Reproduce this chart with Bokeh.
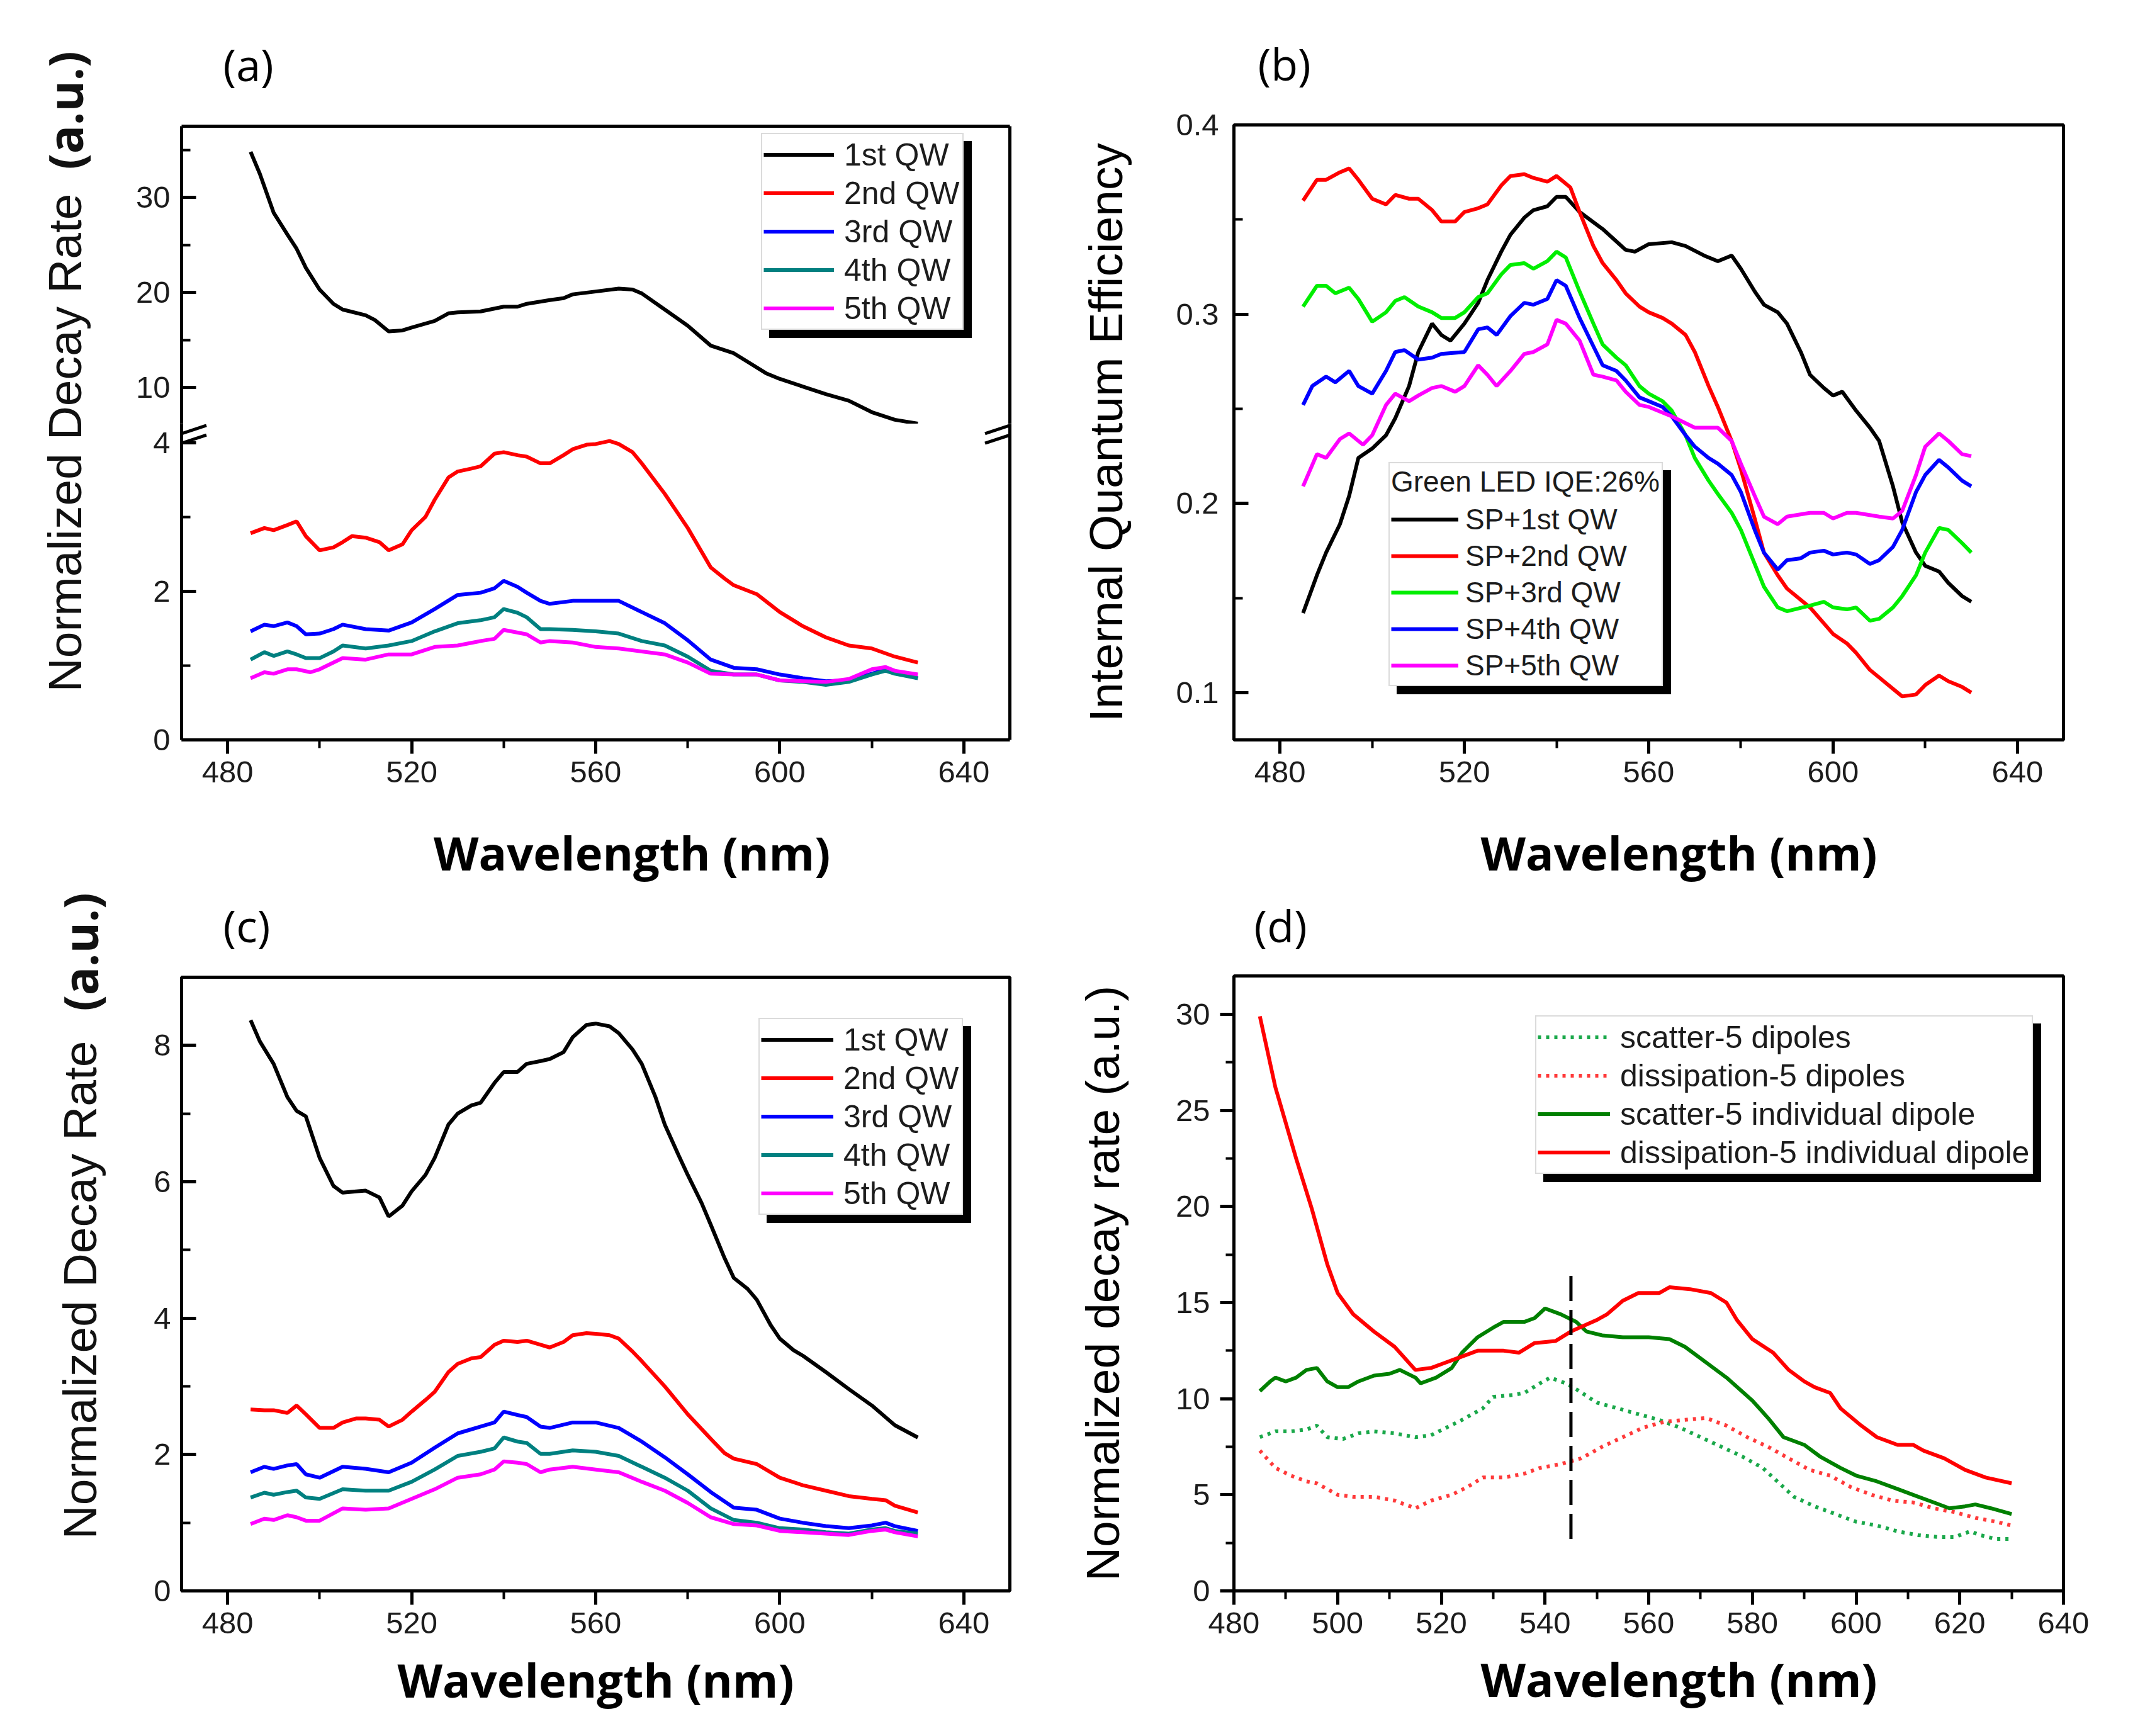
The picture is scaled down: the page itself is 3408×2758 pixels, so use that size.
from math import pi
from bokeh.plotting import figure
from bokeh.models import (Range1d, LinearAxis, FixedTicker, SingleIntervalTicker,
                          Legend, LegendItem, Label, Title)
from bokeh.layouts import row, column
from bokeh.embed import file_html
from bokeh.resources import INLINE

# ------------------------------------------------------------------ data
QW_LABELS = ["1st QW", "2nd QW", "3rd QW", "4th QW", "5th QW"]
QW_COLORS = ["#000000", "#ff0000", "#0000ff", "#008080", "#ff00ff"]
B_LABELS = ["SP+1st QW", "SP+2nd QW", "SP+3rd QW", "SP+4th QW", "SP+5th QW"]
B_COLORS = ["#000000", "#ff0000", "#00ee00", "#0000ff", "#ff00ff"]
B_TITLE = "Green LED IQE:26%"
D_LABELS = ["scatter-5 dipoles", "dissipation-5 dipoles",
            "scatter-5 individual dipole", "dissipation-5 individual dipole"]
D_COLORS = ["#1aa84a", "#ff3a3a", "#008000", "#ff0000"]
PANEL_TAGS = ["(a)", "(b)", "(c)", "(d)"]
X_LABEL = "Wavelength (nm)"

X_TICKS = [480, 520, 560, 600, 640]
X_MINOR = [500, 540, 580, 620]
A_UP_TICKS = [10, 20, 30]
A_UP_MINOR = [15, 25, 35]
A_LO_TICKS = [0, 2, 4]
A_LO_MINOR = [1, 3]

# panel (a): normalized decay rate, broken axis
A_WL1 = [485, 487, 490, 493, 495, 497, 500, 503, 505, 510, 512, 515, 518, 520, 525, 528, 530, 535, 540, 543,
         545, 550, 553, 555, 560, 565, 568, 570, 575, 580, 585, 590, 593, 597, 600, 605, 610, 615, 620, 625, 630]
A_1 = [34.8, 32.5, 28.4, 26.1, 24.6, 22.6, 20.3, 18.8, 18.2, 17.6, 17.1, 15.9, 16.0, 16.3, 17.0, 17.8, 17.9, 18.0, 18.5, 18.5,
       18.8, 19.2, 19.4, 19.8, 20.1, 20.4, 20.3, 19.9, 18.2, 16.5, 14.4, 13.6, 12.7, 11.5, 10.9, 10.1, 9.3, 8.6, 7.4, 6.6, 6.2]
A_WL2 = [485, 488, 490, 493, 495, 497, 500, 503, 505, 507, 510, 513, 515, 518, 520, 523, 525, 528, 530, 533,
         535, 538, 540, 543, 545, 548, 550, 553, 555, 558, 560, 563, 565, 568, 570, 575, 580, 585, 588, 590,
         595, 600, 605, 610, 615, 620, 625, 630]
A_2 = [2.78, 2.85, 2.82, 2.89, 2.94, 2.74, 2.55, 2.59, 2.66, 2.74, 2.72, 2.66, 2.55, 2.63, 2.82, 3.0, 3.23, 3.53, 3.61, 3.65,
       3.68, 3.85, 3.87, 3.83, 3.81, 3.72, 3.72, 3.83, 3.91, 3.97, 3.98, 4.02, 3.98, 3.87, 3.72, 3.31, 2.85, 2.32, 2.17, 2.08,
       1.96, 1.72, 1.53, 1.38, 1.27, 1.23, 1.12, 1.04]
A_WL34 = [485, 488, 490, 493, 495, 497, 500, 503, 505, 510, 515, 520, 525, 530, 535, 538, 540, 543, 545, 548,
          550, 555, 560, 565, 570, 575, 580, 585, 590, 595, 600, 605, 610, 615, 620, 623, 625, 630]
A_3 = [1.46, 1.55, 1.53, 1.58, 1.53, 1.42, 1.43, 1.49, 1.55, 1.49, 1.47, 1.58, 1.76, 1.95, 1.98, 2.04, 2.14, 2.06, 1.98, 1.87,
       1.83, 1.87, 1.87, 1.87, 1.72, 1.57, 1.34, 1.08, 0.97, 0.95, 0.88, 0.83, 0.79, 0.80, 0.89, 0.95, 0.91, 0.83]
A_4 = [1.08, 1.18, 1.13, 1.19, 1.15, 1.10, 1.10, 1.19, 1.27, 1.23, 1.27, 1.33, 1.46, 1.57, 1.61, 1.65, 1.76, 1.71, 1.65, 1.49,
       1.49, 1.48, 1.46, 1.43, 1.33, 1.27, 1.12, 0.93, 0.88, 0.88, 0.80, 0.78, 0.74, 0.78, 0.88, 0.93, 0.89, 0.83]
A_WL5 = [485, 488, 490, 493, 495, 498, 500, 505, 510, 515, 520, 525, 530, 535, 538, 540, 545, 548, 550, 555,
         560, 565, 570, 575, 580, 585, 590, 595, 600, 605, 610, 615, 620, 623, 625, 630]
A_5 = [0.83, 0.91, 0.89, 0.95, 0.95, 0.91, 0.95, 1.10, 1.08, 1.15, 1.15, 1.25, 1.27, 1.33, 1.36, 1.48, 1.42, 1.31, 1.33, 1.31,
       1.25, 1.23, 1.19, 1.15, 1.04, 0.89, 0.88, 0.88, 0.80, 0.79, 0.78, 0.82, 0.95, 0.98, 0.93, 0.88]

# panel (b): internal quantum efficiency
B_WL1 = [485, 488, 490, 493, 495, 497, 500, 503, 505, 508, 510, 513, 515, 517, 520, 523, 525, 528, 530, 533,
         535, 538, 540, 542, 545, 550, 555, 557, 560, 565, 568, 572, 575, 578, 580, 583, 585, 588, 590, 593,
         595, 598, 600, 602, 605, 608, 610, 613, 615, 618, 620, 623, 625, 628, 630]
B_1 = [0.142, 0.162, 0.174, 0.189, 0.204, 0.224, 0.229, 0.236, 0.245, 0.262, 0.280, 0.295, 0.289, 0.286, 0.295, 0.306, 0.318, 0.333, 0.342, 0.351,
       0.355, 0.357, 0.362, 0.362, 0.354, 0.345, 0.334, 0.333, 0.337, 0.338, 0.336, 0.331, 0.328, 0.331, 0.324, 0.312, 0.305, 0.301, 0.295, 0.280,
       0.268, 0.261, 0.257, 0.259, 0.249, 0.240, 0.233, 0.209, 0.190, 0.174, 0.167, 0.164, 0.158, 0.151, 0.148]
B_WL2 = [485, 488, 490, 493, 495, 497, 500, 503, 505, 508, 510, 513, 515, 518, 520, 523, 525, 528, 530, 533,
         535, 538, 540, 543, 545, 548, 550, 553, 555, 558, 560, 563, 565, 568, 570, 573, 575, 578, 580, 583,
         585, 588, 590, 595, 600, 603, 605, 608, 610, 613, 615, 618, 620, 623, 625, 628, 630]
B_2 = [0.360, 0.371, 0.371, 0.375, 0.377, 0.371, 0.361, 0.358, 0.363, 0.361, 0.361, 0.355, 0.349, 0.349, 0.354, 0.356, 0.358, 0.368, 0.373, 0.374,
       0.372, 0.370, 0.373, 0.367, 0.354, 0.336, 0.327, 0.318, 0.311, 0.304, 0.301, 0.298, 0.295, 0.289, 0.280, 0.262, 0.251, 0.233, 0.218, 0.192,
       0.174, 0.162, 0.155, 0.145, 0.131, 0.126, 0.121, 0.112, 0.108, 0.102, 0.098, 0.099, 0.104, 0.109, 0.106, 0.103, 0.100]
B_WL3 = [485, 488, 490, 492, 495, 497, 500, 503, 505, 507, 510, 513, 515, 518, 520, 523, 525, 528, 530, 533,
         535, 538, 540, 542, 545, 548, 550, 553, 555, 558, 560, 563, 565, 568, 570, 573, 575, 578, 580, 583,
         585, 588, 590, 595, 598, 600, 603, 605, 608, 610, 613, 615, 618, 620, 623, 625, 628, 630]
B_3 = [0.304, 0.315, 0.315, 0.311, 0.314, 0.308, 0.296, 0.301, 0.307, 0.309, 0.304, 0.301, 0.298, 0.298, 0.301, 0.309, 0.311, 0.321, 0.326, 0.327,
       0.324, 0.328, 0.333, 0.330, 0.312, 0.295, 0.284, 0.277, 0.273, 0.262, 0.258, 0.254, 0.249, 0.236, 0.224, 0.212, 0.205, 0.195, 0.186, 0.168,
       0.156, 0.145, 0.143, 0.146, 0.148, 0.145, 0.144, 0.145, 0.138, 0.139, 0.145, 0.151, 0.162, 0.174, 0.187, 0.186, 0.179, 0.174]
B_WL4 = [485, 487, 490, 492, 495, 497, 500, 503, 505, 507, 510, 513, 515, 520, 523, 525, 527, 530, 533, 535,
         538, 540, 542, 545, 548, 550, 553, 555, 558, 560, 563, 565, 568, 570, 573, 575, 578, 580, 583, 585,
         588, 590, 593, 595, 598, 600, 603, 605, 608, 610, 613, 615, 618, 620, 623, 625, 628, 630]
B_4 = [0.252, 0.262, 0.267, 0.264, 0.270, 0.262, 0.258, 0.270, 0.280, 0.281, 0.276, 0.277, 0.279, 0.280, 0.292, 0.293, 0.289, 0.299, 0.306, 0.305,
       0.308, 0.318, 0.315, 0.298, 0.283, 0.273, 0.270, 0.265, 0.256, 0.254, 0.251, 0.246, 0.236, 0.230, 0.224, 0.221, 0.215, 0.206, 0.186, 0.174,
       0.165, 0.170, 0.171, 0.174, 0.175, 0.173, 0.174, 0.173, 0.168, 0.170, 0.177, 0.186, 0.206, 0.215, 0.223, 0.219, 0.212, 0.209]
B_WL5 = [485, 488, 490, 493, 495, 498, 500, 503, 505, 508, 510, 513, 515, 518, 520, 523, 525, 527, 530, 533,
         535, 538, 540, 542, 545, 548, 550, 553, 555, 558, 560, 565, 570, 575, 578, 580, 583, 585, 588, 590,
         595, 598, 600, 603, 605, 610, 613, 615, 618, 620, 623, 625, 628, 630]
B_5 = [0.209, 0.226, 0.224, 0.234, 0.237, 0.231, 0.236, 0.252, 0.258, 0.254, 0.257, 0.261, 0.262, 0.259, 0.262, 0.273, 0.268, 0.262, 0.270, 0.279,
       0.280, 0.284, 0.297, 0.295, 0.286, 0.268, 0.267, 0.265, 0.259, 0.252, 0.251, 0.246, 0.240, 0.240, 0.233, 0.221, 0.204, 0.193, 0.189, 0.193,
       0.195, 0.195, 0.192, 0.195, 0.195, 0.193, 0.192, 0.196, 0.215, 0.230, 0.237, 0.233, 0.226, 0.225]

# panel (c): normalized decay rate
C_WL1 = [485, 487, 490, 493, 495, 497, 500, 503, 505, 508, 510, 513, 515, 518, 520, 523, 525, 528, 530, 533,
         535, 538, 540, 543, 545, 548, 550, 553, 555, 558, 560, 563, 565, 568, 570, 573, 575, 578, 580, 583,
         585, 588, 590, 593, 595, 598, 600, 603, 605, 610, 615, 620, 625, 630]
C_1 = [8.37, 8.06, 7.73, 7.24, 7.04, 6.96, 6.35, 5.94, 5.84, 5.86, 5.87, 5.77, 5.49, 5.65, 5.86, 6.10, 6.35, 6.84, 7.00, 7.12,
       7.16, 7.45, 7.61, 7.61, 7.73, 7.77, 7.80, 7.90, 8.12, 8.30, 8.32, 8.28, 8.18, 7.94, 7.73, 7.24, 6.84, 6.39, 6.10, 5.69,
       5.37, 4.88, 4.59, 4.43, 4.27, 3.90, 3.70, 3.53, 3.45, 3.21, 2.96, 2.72, 2.43, 2.25]
C_WL2 = [485, 488, 490, 493, 495, 497, 500, 503, 505, 508, 510, 513, 515, 518, 520, 523, 525, 528, 530, 533,
         535, 538, 540, 543, 545, 548, 550, 553, 555, 558, 560, 563, 565, 568, 570, 575, 580, 585, 588, 590,
         595, 600, 605, 610, 615, 620, 623, 625, 630]
C_2 = [2.66, 2.65, 2.65, 2.61, 2.72, 2.59, 2.39, 2.39, 2.47, 2.53, 2.53, 2.51, 2.41, 2.51, 2.63, 2.80, 2.92, 3.21, 3.33, 3.41,
       3.43, 3.61, 3.67, 3.65, 3.67, 3.61, 3.57, 3.65, 3.75, 3.78, 3.77, 3.75, 3.70, 3.51, 3.37, 3.00, 2.59, 2.23, 2.02, 1.94,
       1.86, 1.66, 1.55, 1.47, 1.39, 1.35, 1.33, 1.25, 1.15]
C_WL345 = [485, 488, 490, 493, 495, 497, 500, 505, 510, 515, 520, 525, 530, 535, 538, 540, 543, 545, 548, 550,
           555, 560, 565, 570, 575, 580, 585, 590, 595, 600, 605, 610, 615, 620, 623, 625, 630]
C_3 = [1.74, 1.82, 1.79, 1.84, 1.86, 1.71, 1.66, 1.82, 1.79, 1.74, 1.88, 2.10, 2.31, 2.41, 2.47, 2.63, 2.58, 2.55, 2.41, 2.39,
       2.47, 2.47, 2.39, 2.19, 1.96, 1.71, 1.45, 1.22, 1.19, 1.06, 1.00, 0.95, 0.92, 0.96, 1.00, 0.95, 0.88]
C_4 = [1.37, 1.44, 1.41, 1.45, 1.47, 1.37, 1.35, 1.49, 1.47, 1.47, 1.60, 1.78, 1.98, 2.04, 2.09, 2.25, 2.19, 2.17, 2.01, 2.01,
       2.06, 2.04, 1.98, 1.82, 1.66, 1.47, 1.21, 1.04, 1.00, 0.92, 0.90, 0.86, 0.84, 0.90, 0.92, 0.88, 0.84]
C_5 = [0.98, 1.06, 1.04, 1.11, 1.08, 1.03, 1.03, 1.21, 1.19, 1.21, 1.35, 1.49, 1.66, 1.71, 1.78, 1.90, 1.88, 1.86, 1.74, 1.78,
       1.82, 1.78, 1.74, 1.60, 1.47, 1.29, 1.08, 0.98, 0.96, 0.88, 0.86, 0.84, 0.82, 0.88, 0.90, 0.86, 0.80]

# panel (d): normalized decay rate, simulation
D_WL1 = [485, 488, 491, 494, 496, 498, 501, 504, 507, 511, 515, 518, 521, 524, 528, 530, 534, 536, 539, 541,
         544, 546, 550, 554, 558, 562, 566, 570, 574, 578, 582, 586, 588, 592, 596, 600, 604, 608, 612, 616,
         619, 622, 624, 627, 630]
D_1 = [8.0, 8.3, 8.3, 8.4, 8.6, 8.0, 7.9, 8.2, 8.3, 8.2, 8.0, 8.1, 8.5, 8.9, 9.5, 10.1, 10.2, 10.3, 10.8, 11.1,
       10.8, 10.5, 9.8, 9.5, 9.2, 8.9, 8.5, 8.0, 7.5, 7.0, 6.4, 5.4, 4.9, 4.4, 4.0, 3.6, 3.4, 3.1, 2.9, 2.8,
       2.8, 3.1, 2.9, 2.7, 2.7]
D_WL2 = [485, 488, 491, 494, 496, 500, 503, 507, 511, 515, 518, 522, 525, 528, 532, 536, 539, 543, 547, 551,
         555, 559, 563, 567, 571, 575, 579, 583, 587, 591, 595, 599, 603, 607, 611, 615, 619, 623, 627, 630]
D_2 = [7.3, 6.4, 6.0, 5.7, 5.6, 5.0, 4.9, 4.9, 4.7, 4.3, 4.7, 5.0, 5.4, 5.9, 5.9, 6.1, 6.4, 6.6, 6.9, 7.5,
       8.0, 8.5, 8.8, 8.9, 9.0, 8.6, 8.0, 7.5, 6.9, 6.3, 6.0, 5.4, 5.0, 4.7, 4.6, 4.3, 4.1, 3.8, 3.6, 3.4]
D_WL3 = [485, 487, 488, 490, 492, 494, 496, 498, 500, 502, 504, 507, 510, 512, 515, 516, 519, 522, 524, 527,
         530, 532, 536, 538, 540, 543, 546, 548, 551, 555, 560, 564, 567, 571, 575, 580, 583, 586, 590, 593,
         597, 600, 604, 608, 611, 615, 618, 621, 623, 626, 630]
D_3 = [10.4, 10.9, 11.1, 10.9, 11.1, 11.5, 11.6, 10.9, 10.6, 10.6, 10.9, 11.2, 11.3, 11.5, 11.1, 10.8, 11.1, 11.6, 12.4, 13.2,
       13.7, 14.0, 14.0, 14.2, 14.7, 14.4, 14.0, 13.5, 13.3, 13.2, 13.2, 13.1, 12.7, 11.9, 11.1, 9.9, 9.0, 8.0, 7.6, 7.0,
       6.4, 6.0, 5.7, 5.3, 5.0, 4.6, 4.3, 4.4, 4.5, 4.3, 4.0]
D_WL4 = [485, 488, 492, 495, 498, 500, 503, 507, 511, 515, 518, 520, 523, 527, 532, 535, 538, 542, 545, 550,
         552, 555, 558, 562, 564, 568, 572, 575, 577, 580, 584, 587, 590, 592, 595, 597, 601, 604, 608, 611,
         613, 617, 621, 625, 630]
D_4 = [29.9, 26.2, 22.5, 19.9, 17.0, 15.5, 14.4, 13.5, 12.7, 11.5, 11.6, 11.8, 12.1, 12.5, 12.5, 12.4, 12.9, 13.0, 13.5, 14.1,
       14.4, 15.1, 15.5, 15.5, 15.8, 15.7, 15.5, 15.0, 14.1, 13.1, 12.4, 11.5, 10.9, 10.6, 10.3, 9.5, 8.6, 8.0, 7.6, 7.6,
       7.3, 6.9, 6.3, 5.9, 5.6]
D_MARK_X = [545]
D_MARK_Y0 = [2.7]
D_MARK_Y1 = [16.7]

# axis-break symbol of panel (a): two short slanted strokes "//" at each broken axis,
# drawn in the lower half just under the break
BREAK_X0 = [470, 470, 644.6, 644.6]
BREAK_X1 = [475.4, 475.4, 650, 650]
BREAK_Y0 = [3.99, 4.12, 3.99, 4.12]
BREAK_Y1 = [4.10, 4.23, 4.10, 4.23]

# ------------------------------------------------------------------ styles
TICK_FONT = "Liberation Sans"
XLAB_FONT = "Open Sans"
TXT = "#1c1c1c"
LW = 6
NB = "\u00a0"


def base_fig(w, h, xr, yr, ml, mr, mt, mb, outline=True):
    p = figure(width=w, height=h, x_range=Range1d(*xr), y_range=Range1d(*yr),
               x_axis_location=None, y_axis_location=None, toolbar_location=None,
               output_backend="svg", min_border_left=ml, min_border_right=mr,
               min_border_top=mt, min_border_bottom=mb,
               background_fill_color="white", border_fill_color="white")
    p.grid.visible = False
    p.outline_line_color = "black" if outline else None
    p.outline_line_width = 5
    p.title.standoff = 0
    return p


def add_axis(p, side, ticks=None, minor=None, interval=None, inward=True,
             standoff=20, label="", label_standoff=30, xlab=False):
    if ticks is not None:
        ticker = FixedTicker(ticks=ticks, minor_ticks=minor or [])
    elif interval is not None:
        ticker = SingleIntervalTicker(interval=interval, num_minor_ticks=2)
    else:
        ticker = FixedTicker(ticks=[])
    ax = LinearAxis(ticker=ticker)
    ax.axis_line_width = 5
    ax.axis_line_color = "black"
    ax.major_tick_line_width = 5
    ax.minor_tick_line_width = 4
    ax.major_tick_line_color = "black"
    ax.minor_tick_line_color = "black"
    if inward:
        ax.major_tick_in, ax.major_tick_out = 23, 0
        ax.minor_tick_in, ax.minor_tick_out = 14, 0
    else:
        ax.major_tick_in, ax.major_tick_out = 0, 22
        ax.minor_tick_in, ax.minor_tick_out = 0, 13
    ax.major_label_text_font = TICK_FONT
    ax.major_label_text_font_size = "49px"
    ax.major_label_text_color = TXT
    ax.major_label_standoff = standoff
    if label:
        ax.axis_label = label
        ax.axis_label_standoff = label_standoff
        ax.axis_label_text_color = "#000000"
        if xlab:
            ax.axis_label_text_font = XLAB_FONT
            ax.axis_label_text_font_style = "bold"
            ax.axis_label_text_font_size = "74px"
        else:
            ax.axis_label_text_font = TICK_FONT
            ax.axis_label_text_font_style = "normal"
            ax.axis_label_text_font_size = "75px"
    p.add_layout(ax, side)
    return ax


def add_legends(p, pairs, loc, font_size, glyph_w, item_h, standoff, label_w, title=None):
    # black drop shadow (blank labels, same geometry) drawn first, framed legend on top
    for shadow in (True, False):
        items = [LegendItem(label=(" " if shadow else lab), renderers=[r]) for lab, r in pairs]
        kw = dict(items=items, glyph_width=glyph_w, glyph_height=item_h,
                  label_height=item_h, label_width=label_w, spacing=0, padding=2, margin=0,
                  label_standoff=standoff, label_text_font=TICK_FONT,
                  label_text_font_size=font_size, label_text_color=TXT,
                  border_line_width=2, background_fill_alpha=1.0)
        if title:
            kw.update(title=(" " if shadow else title), title_text_font=TICK_FONT,
                      title_text_font_size=font_size, title_text_font_style="normal",
                      title_text_color=TXT, title_standoff=4)
        if shadow:
            kw.update(location=(loc[0] + 13, loc[1] - 13), border_line_color="black",
                      background_fill_color="black")
        else:
            kw.update(location=loc, border_line_color="#b8b8b8", background_fill_color="white")
        p.add_layout(Legend(**kw))


def style_tag(t, text, offset, standoff):
    t.text = text
    t.align = "left"
    t.offset = offset
    t.standoff = standoff
    t.text_font = "Open Sans"
    t.text_font_size = "70px"
    t.text_font_style = "normal"
    t.text_color = "#000000"
    return t


# ------------------------------------------------------------------ y-label strip (left)
yl = figure(width=186, height=2742, x_range=Range1d(8, 194), y_range=Range1d(2750, 8),
            x_axis_location=None, y_axis_location=None, toolbar_location=None,
            output_backend="svg", min_border_left=0, min_border_right=0,
            min_border_top=0, min_border_bottom=0)
yl.grid.visible = False
yl.outline_line_color = None
yl.title.standoff = 0
for xx, yy, tt, ff, st in [(110, 711, "Normalized Decay Rate", TICK_FONT, "normal"),
                           (110, 183, "(a.u.)", XLAB_FONT, "bold"),
                           (134, 2057, "Normalized Decay Rate", TICK_FONT, "normal"),
                           (134, 1520, "(a.u.)", XLAB_FONT, "bold")]:
    yl.add_layout(Label(x=xx, y=yy, text=tt, angle=pi / 2, text_font=ff, text_font_style=st,
                        text_font_size="75px", text_color="#111111",
                        text_align="center", text_baseline="middle"))

# ------------------------------------------------------------------ panel (a) - broken axis
XR_AC = (470, 650)
a_top = base_fig(1510, 673, XR_AC, (6.16, 37.5), 102, 91, 200, 0, outline=False)
add_axis(a_top, "left", ticks=A_UP_TICKS, minor=A_UP_MINOR, standoff=18)
add_axis(a_top, "right")
add_axis(a_top, "above")
a_bot = base_fig(1510, 869, XR_AC, (0, 4.25), 102, 91, 0, 367, outline=False)
add_axis(a_bot, "left", ticks=A_LO_TICKS, minor=A_LO_MINOR, standoff=18)
add_axis(a_bot, "right")
add_axis(a_bot, "below", ticks=X_TICKS, minor=X_MINOR, inward=False, standoff=12,
         label=NB * 6 + X_LABEL, label_standoff=58, xlab=True)

A_SERIES = [(A_WL1, A_1), (A_WL2, A_2), (A_WL34, A_3), (A_WL34, A_4), (A_WL5, A_5)]
ra = []
for i, (wl, vals) in enumerate(A_SERIES):
    # each series is drawn in both halves; only the part inside each half's range shows
    r_top = a_top.line(wl, vals, line_color=QW_COLORS[i], line_width=LW)
    a_bot.line(wl, vals, line_color=QW_COLORS[i], line_width=LW)
    ra.append(r_top)
add_legends(a_top, list(zip(QW_LABELS, ra)), (921, 149), "50px", 112, 61, 16, 186)
style_tag(a_top.title, PANEL_TAGS[0], 66, 102)
a_bot.segment(x0=BREAK_X0, y0=BREAK_Y0, x1=BREAK_X1, y1=BREAK_Y1,
              line_color="#000000", line_width=5)

# ------------------------------------------------------------------ panel (b)
b = base_fig(1696, 1542, XR_AC, (0.075, 0.4), 264, 110, 198, 367)
add_axis(b, "left", interval=0.1, standoff=24, label="Internal Quantum Efficiency", label_standoff=66)
add_axis(b, "below", ticks=X_TICKS, minor=X_MINOR, inward=False, standoff=12,
         label=NB * 5 + X_LABEL, label_standoff=58, xlab=True)
rb = []
for wl, vals, col in [(B_WL1, B_1, B_COLORS[0]), (B_WL2, B_2, B_COLORS[1]), (B_WL3, B_3, B_COLORS[2]),
                      (B_WL4, B_4, B_COLORS[3]), (B_WL5, B_5, B_COLORS[4])]:
    rb.append(b.line(wl, vals, line_color=col, line_width=LW))
add_legends(b, list(zip(B_LABELS, rb)), (246, 85), "46px", 107, 58, 11, 310, title=B_TITLE)
style_tag(b.title, PANEL_TAGS[1], 38, 100)

# tags of the lower row sit in the band just below the upper row's x-axis titles
a_bot.add_layout(style_tag(Title(), PANEL_TAGS[2], 66, 25), "below")
b.add_layout(style_tag(Title(), PANEL_TAGS[3], 32, 25), "below")

# ------------------------------------------------------------------ panel (c)
c = base_fig(1510, 1200, XR_AC, (0, 9), 102, 92, 10, 215)
add_axis(c, "left", interval=2, standoff=17)
add_axis(c, "below", ticks=X_TICKS, minor=X_MINOR, inward=False, standoff=12,
         label=X_LABEL, label_standoff=20, xlab=True)
rc = []
for wl, vals, col in [(C_WL1, C_1, QW_COLORS[0]), (C_WL2, C_2, QW_COLORS[1]), (C_WL345, C_3, QW_COLORS[2]),
                      (C_WL345, C_4, QW_COLORS[3]), (C_WL345, C_5, QW_COLORS[4])]:
    rc.append(c.line(wl, vals, line_color=col, line_width=LW))
add_legends(c, list(zip(QW_LABELS, rc)), (917, 597), "50px", 115, 61, 16, 186)

# ------------------------------------------------------------------ panel (d)
d = base_fig(1696, 1200, (480, 640), (0, 32), 262, 114, 8, 215)
add_axis(d, "left", interval=5, inward=False, standoff=16,
         label="Normalized decay rate (a.u.)", label_standoff=71)
add_axis(d, "below", interval=20, inward=False, standoff=12,
         label=NB * 5 + X_LABEL, label_standoff=19, xlab=True)
rd = [d.line(D_WL1, D_1, line_color=D_COLORS[0], line_width=LW, line_dash="5 8"),
      d.line(D_WL2, D_2, line_color=D_COLORS[1], line_width=LW, line_dash="5 8"),
      d.line(D_WL3, D_3, line_color=D_COLORS[2], line_width=LW),
      d.line(D_WL4, D_4, line_color=D_COLORS[3], line_width=LW)]
d.segment(x0=D_MARK_X, y0=D_MARK_Y0, x1=D_MARK_X, y1=D_MARK_Y1,
          line_color="#000000", line_width=5, line_dash="40 14")
add_legends(d, list(zip(D_LABELS, rd)), (479, 662), "50px", 115, 61, 16, 652)

layout = row(yl, column(a_top, a_bot, c), column(b, d))
open("out.html", "w").write(file_html(layout, INLINE))
